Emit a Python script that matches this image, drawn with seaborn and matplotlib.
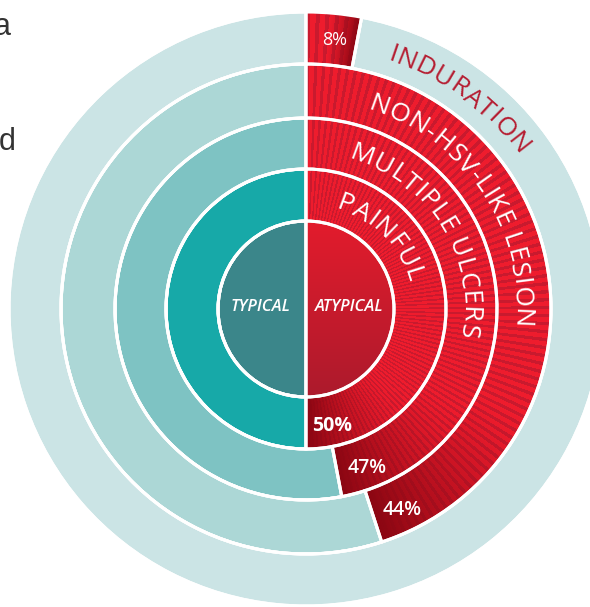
import numpy as np
import matplotlib
matplotlib.use("Agg")
import matplotlib.pyplot as plt
import seaborn as sns
from matplotlib.patches import Wedge
from matplotlib.colors import to_rgb
from matplotlib.font_manager import FontProperties
from matplotlib.textpath import TextToPath

# ---- data ----
groups = ["TYPICAL", "ATYPICAL"]
features = ["PAINFUL", "MULTIPLE ULCERS", "NON-HSV-LIKE LESION", "INDURATION"]
atypical_pct = [50, 47, 44, 8]      # printed values
arc_share = [50, 47, 45, 3]         # red share of each ring as drawn in the picture

# ---- style ----
teal_center = "#3b868a"
teal_rings = ["#17a9a8", "#7ec3c3", "#acd7d6", "#cbe4e5"]
red_bright = "#ee1c2d"
red_stripe = "#c91a2e"
red_dark = "#8a0612"
induration_col = "#b51d31"

sns.set_theme(style="white")
plt.rcParams['font.family'] = ['Open Sans', 'DejaVu Sans']

W, H = 590, 607
DPI = 100
fig = plt.figure(figsize=(W / DPI, H / DPI), dpi=DPI)
ax = fig.add_axes([0, 0, 1, 1])

cx, cy = 306, 298
radii = [88, 140, 191, 245, 297]
edge = dict(edgecolor="white", linewidth=2.2)

all_wedges = []
red_wedges = []

# centre disc
w0, _ = ax.pie([50, 50], radius=radii[0], center=(cx, cy), startangle=90,
               counterclock=False, colors=[red_bright, teal_center], wedgeprops=edge)
all_wedges += list(w0)

# rings
for k in range(4):
    wk, _ = ax.pie([arc_share[k], 100 - arc_share[k]], radius=radii[k + 1], center=(cx, cy),
                   startangle=90, counterclock=False, colors=[red_bright, teal_rings[k]],
                   wedgeprops=dict(width=radii[k + 1] - radii[k], **edge))
    all_wedges += list(wk)
    red_wedges.append(wk[0])

# red fills: radial stripes, darkening towards the end of each arc
yy, xx = np.mgrid[0:H, 0:W] + 0.5
theta = np.degrees(np.arctan2(xx - cx, yy - cy)) % 360
stripe = ((theta / 1.9) % 1.0) < 0.42
base = np.where(stripe[..., None], np.array(to_rgb(red_stripe)), np.array(to_rgb(red_bright)))
dark = np.array(to_rgb(red_dark))

for k, wdg in enumerate(red_wedges):
    end = arc_share[k] * 3.6
    span = min(45.0, end * 0.6)
    f = np.clip((theta - (end - span)) / span, 0, 1)[..., None] ** 1.3
    img = base * (1 - f) + dark * f
    im = ax.imshow(img, extent=(0, W, 0, H), origin="lower", zorder=1.5, interpolation="nearest")
    im.set_clip_path(wdg)

# centre red half: vertical gradient
t = np.clip((yy - (cy - radii[0])) / (2 * radii[0]), 0, 1)[..., None]
img = np.array(to_rgb("#ac1a2c")) * (1 - t) + np.array(to_rgb("#e31c2c")) * t
im = ax.imshow(img, extent=(0, W, 0, H), origin="lower", zorder=1.5, interpolation="nearest")
im.set_clip_path(w0[0])

# white separators on top
for w in all_wedges:
    ax.add_patch(Wedge(w.center, w.r, w.theta1, w.theta2, width=w.width,
                       fill=False, zorder=2, **edge))

# ---- curved labels ----
ttp = TextToPath()


def width_px(s, prop):
    return ttp.get_text_width_height_descent(s, prop, ismath=False)[0] * DPI / 72


def arc_text(s, r_mid, start, size, color, track=1.0):
    prop = FontProperties(family="Open Sans", size=size)
    cap = 0.714 * size * DPI / 72
    r_base = r_mid - cap / 2
    for i, ch in enumerate(s):
        if ch == " ":
            continue
        pos = (width_px(s[:i + 1], prop) - width_px(ch, prop) / 2) * track
        ang = start + np.degrees(pos / r_base)
        a = np.radians(ang)
        ax.text(cx + r_base * np.sin(a), cy + r_base * np.cos(a), ch, rotation=-ang,
                rotation_mode="anchor", ha="center", va="baseline",
                fontproperties=prop, color=color, zorder=3)


label_start = [16, 15.5, 17, 18]
for k, name in enumerate(features):
    r_mid = (radii[k] + radii[k + 1]) / 2
    col = induration_col if k == 3 else "white"
    arc_text(name, r_mid, label_start[k], 19, col, track=1.03)

# percentage labels
label_angle = [167.5, 159, 154.5, 6]
label_r = [120, 170, 223, 270]
label_weight = ["bold", "semibold", "semibold", "normal"]
label_size = [14, 14, 14, 13]
for k, v in enumerate(atypical_pct):
    a = np.radians(label_angle[k])
    ax.text(cx + label_r[k] * np.sin(a), cy + label_r[k] * np.cos(a), f"{v}%",
            ha="center", va="center", color="white", fontsize=label_size[k],
            fontweight=label_weight[k], zorder=3)

# centre labels
ax.text(cx - 45, cy + 2, groups[0], ha="center", va="center", color="white",
        fontsize=12, fontstyle="italic", fontweight="semibold", zorder=3)
ax.text(cx + 43, cy + 2, groups[1], ha="center", va="center", color="white",
        fontsize=12, fontstyle="italic", fontweight="semibold", zorder=3)

# cropped body text at the left edge
ax.text(11, H - 35, "a", ha="right", va="baseline", fontsize=22, color="#333333",
        family="Liberation Sans")
ax.text(16, H - 150, "d", ha="right", va="baseline", fontsize=22, color="#333333",
        family="Liberation Sans")

ax.set_xlim(0, W)
ax.set_ylim(0, H)
ax.set_aspect("auto")
ax.set_axis_off()
fig.savefig("out.png", dpi=DPI)
